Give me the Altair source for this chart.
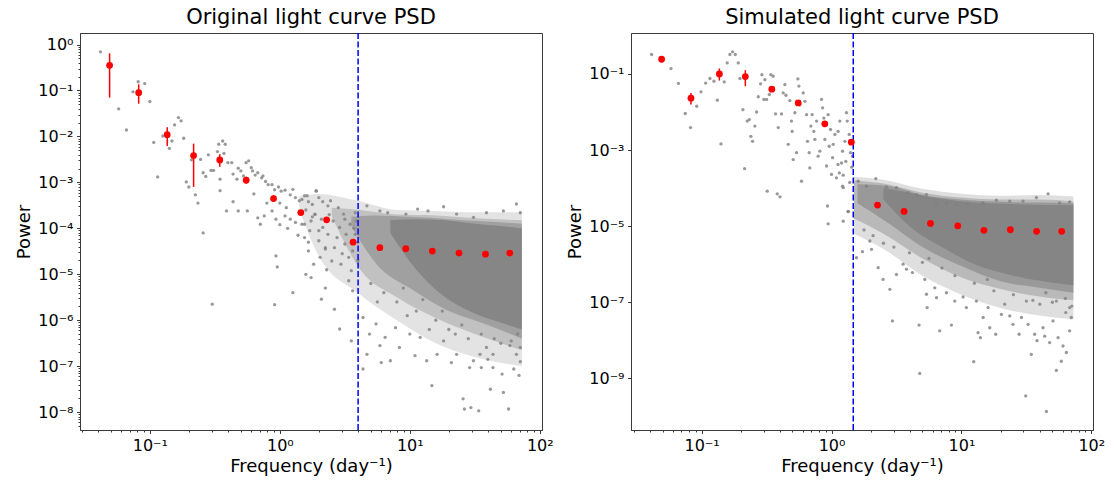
import altair as alt
import pandas as pd

# ======================= LEFT PANEL: original light curve =======================
L_title = "Original light curve PSD"
L_xdomain = [0.029, 104.0]
L_ydomain = [4.1e-9, 1.78]
L_break = 4.0  # dashed vertical line (day^-1)

L_bin_f = [0.049, 0.082, 0.136, 0.217, 0.345, 0.551, 0.895, 1.45, 2.29, 3.66,
           5.88, 9.31, 14.9, 23.9, 38.2, 58.8]
L_bin_p = [0.353, 0.0896, 0.0109, 0.00383, 0.00308, 0.00112, 0.000445, 0.000221,
           0.000153, 5.0e-5, 3.8e-5, 3.6e-5, 3.2e-5, 2.9e-5, 2.75e-5, 2.9e-5]
L_err_lo = [0.0698, 0.0516, 0.0062, 0.000798, 0.0022, 0.00094, 0.000383, 0.000193,
            0.000135, 4.6e-5, 3.55e-5, 3.4e-5, 3.05e-5, 2.8e-5, 2.65e-5, 2.8e-5]
L_err_hi = [0.644, 0.136, 0.0158, 0.00697, 0.0041, 0.00132, 0.000527, 0.000252,
            0.000172, 5.4e-5, 4.05e-5, 3.8e-5, 3.35e-5, 3.0e-5, 2.85e-5, 3.0e-5]

# individual periodogram points, read as (log10 freq, log10 power)
L_gray = [
    (-1.38, -0.16), (-1.24, -1.40), (-1.18, -1.86), (-1.13, -1.03), (-1.09, -0.81), (-1.04, -0.85),
    (-1.00, -1.24), (-0.97, -2.13), (-0.94, -2.88), (-0.90, -1.99), (-0.85, -2.26), (-0.83, -2.10),
    (-0.81, -1.75), (-0.78, -1.59), (-0.76, -1.66), (-0.74, -2.04), (-0.72, -2.99), (-0.70, -3.10),
    (-0.68, -2.51), (-0.65, -3.27), (-0.63, -3.45), (-0.61, -2.50), (-0.59, -2.79), (-0.57, -2.87),
    (-0.55, -2.40), (-0.53, -2.74), (-0.51, -2.74), (-0.48, -2.33), (-0.47, -2.17), (-0.44, -2.10),
    (-0.42, -2.17), (-0.43, -2.37), (-0.46, -2.93), (-0.46, -3.18), (-0.40, -2.57), (-0.37, -2.57),
    (-0.41, -3.62), (-0.59, -4.10), (-0.52, -5.65),
    (-0.36, -2.82), (-0.33, -2.93), (-0.32, -2.69), (-0.30, -2.75), (-0.28, -2.86), (-0.26, -2.57),
    (-0.24, -2.53), (-0.22, -2.68), (-0.21, -2.75), (-0.19, -2.84), (-0.17, -2.79), (-0.14, -2.90),
    (-0.13, -2.86), (-0.11, -2.98), (-0.09, -3.05), (-0.06, -3.05), (-0.04, -3.16), (-0.01, -3.10),
    (0.01, -3.19), (0.04, -3.17), (0.08, -3.27), (0.10, -3.15), (0.12, -3.33), (0.17, -3.37),
    (0.19, -3.29), (0.22, -3.42), (0.25, -3.48), (0.28, -3.19), (0.30, -3.33), (0.33, -3.42),
    (0.37, -3.51), (-0.36, -3.42), (-0.32, -3.62), (-0.25, -3.62), (-0.17, -3.77), (-0.15, -3.91),
    (-0.12, -3.73), (-0.06, -3.62), (-0.03, -3.80), (0.00, -3.92), (0.04, -3.73), (0.08, -3.80),
    (0.12, -3.87), (0.19, -3.91), (0.24, -3.84), (0.32, -3.80), (-0.03, -4.60), (-0.02, -4.84),
    (0.10, -5.40), (-0.04, -5.66), (0.20, -5.00), (0.35, -5.30),
    (-0.20, -3.25), (-0.10, -3.45), (0.05, -3.55), (0.15, -3.65), (0.00, -3.45), (0.27, -3.70),
    (0.30, -4.05), (0.14, -4.15), (0.22, -4.30), (0.35, -4.45), (0.06, -4.00),
    (0.15, -3.40), (0.21, -3.29), (0.28, -3.18), (0.39, -3.40), (0.49, -3.69), (0.58, -3.66),
    (0.67, -3.51), (0.77, -3.62), (0.83, -3.66), (0.97, -3.69), (1.06, -3.58), (1.14, -3.62),
    (1.26, -3.53), (1.36, -3.69), (1.49, -3.76), (1.59, -3.66), (1.72, -3.62), (1.82, -3.47),
    (1.85, -3.66),
    (0.17, -3.91), (0.19, -4.20), (0.22, -4.49), (0.23, -4.05), (0.26, -4.78), (0.27, -3.69),
    (0.30, -4.27), (0.31, -4.63), (0.33, -3.98), (0.35, -4.42), (0.37, -4.13), (0.40, -4.71),
    (0.41, -3.84), (0.42, -4.42), (0.44, -4.20), (0.46, -3.98), (0.47, -4.78), (0.50, -4.34),
    (0.51, -4.13), (0.53, -4.63), (0.54, -3.91), (0.55, -4.92), (0.56, -4.49), (0.58, -4.13),
    (0.59, -3.84), (0.24, -5.07), (0.32, -5.54), (0.42, -5.76), (0.46, -6.19), (0.55, -6.45),
    (0.56, -5.36), (0.53, -5.14), (0.20, -3.60), (0.25, -3.75), (0.38, -3.70), (0.45, -3.55),
    (0.50, -3.80), (0.57, -4.00), (0.48, -4.55), (0.36, -4.90), (0.60, -4.30), (0.60, -4.70),
    (0.64, -5.94), (0.67, -6.74), (0.64, -7.06), (0.69, -6.30), (0.74, -6.08), (0.77, -6.55),
    (0.78, -6.92), (0.81, -6.37), (0.85, -6.88), (0.89, -6.16), (0.92, -6.59), (1.00, -6.30),
    (1.04, -6.77), (1.08, -6.37), (1.13, -6.88), (1.17, -7.42), (1.21, -6.74), (1.26, -6.45),
    (1.32, -6.92), (1.36, -6.74), (1.41, -7.71), (1.42, -7.93), (1.46, -7.03), (1.47, -7.90),
    (1.53, -7.97), (1.54, -6.74), (1.55, -7.03), (1.59, -6.59), (1.62, -7.50), (1.64, -6.74),
    (1.71, -7.17), (1.72, -7.57), (1.76, -7.93), (1.77, -6.55), (1.80, -7.06), (1.82, -6.74),
    (1.83, -6.30), (1.85, -6.59), (1.64, -7.03), (1.49, -6.88),
    (0.70, -5.20), (0.80, -5.40), (0.90, -5.60), (0.95, -5.30), (1.05, -5.80), (1.10, -5.55),
    (1.20, -6.00), (1.25, -5.80), (1.30, -6.20), (1.40, -6.10), (1.45, -6.40), (1.55, -6.30),
    (1.65, -6.40), (1.70, -6.50), (1.78, -6.45), (1.85, -6.90), (1.84, -7.20), (1.60, -6.85),
    (1.35, -6.30), (1.15, -6.20), (0.98, -5.90), (0.75, -5.60),
]
# the crowded part of the cloud, read as bands of (log10 freq, upper, lower log10 power),
# from the thinly to the most densely covered zone
L_bands = [
    ([(0.15, -3.30, -3.60), (0.30, -3.25, -4.60), (0.60, -3.40, -5.40), (0.90, -3.60, -6.00),
      (1.20, -3.62, -6.50), (1.50, -3.65, -6.80), (1.862, -3.65, -7.00)], 0.22),
    ([(0.40, -3.55, -3.75), (0.62, -3.60, -4.90), (0.90, -3.70, -5.50), (1.20, -3.72, -5.95),
      (1.50, -3.78, -6.30), (1.862, -3.82, -6.65)], 0.35),
    ([(0.55, -3.75, -3.95), (0.75, -3.72, -4.80), (1.00, -3.75, -5.30), (1.30, -3.80, -5.80),
      (1.60, -3.85, -6.10), (1.862, -3.90, -6.40)], 0.5),
    ([(0.85, -3.82, -4.10), (1.05, -3.80, -4.90), (1.25, -3.82, -5.45), (1.50, -3.90, -5.85),
      (1.70, -3.95, -6.05), (1.862, -4.00, -6.20)], 0.8),
]

# ======================= RIGHT PANEL: simulated light curve =======================
R_title = "Simulated light curve PSD"
R_xdomain = [0.0286, 103.0]
R_ydomain = [4.4e-11, 1.19]
R_break = 1.47

R_bin_f = [0.0492, 0.0828, 0.137, 0.217, 0.347, 0.554, 0.888, 1.42, 2.26, 3.62,
           5.78, 9.37, 14.9, 23.8, 37.9, 59.1]
R_bin_p = [0.243, 0.023, 0.100, 0.0855, 0.0398, 0.0173, 0.00488, 0.00161, 3.58e-5, 2.44e-5,
           1.18e-5, 1.02e-5, 7.76e-6, 8.05e-6, 7.3e-6, 7.3e-6]
R_err_lo = [0.228, 0.0157, 0.067, 0.0475, 0.0337, 0.0153, 0.0044, 0.00147, 3.35e-5, 2.3e-5,
            1.12e-5, 9.7e-6, 7.4e-6, 7.7e-6, 7.0e-6, 7.0e-6]
R_err_hi = [0.259, 0.0317, 0.139, 0.125, 0.0447, 0.0195, 0.0054, 0.00176, 3.8e-5, 2.6e-5,
            1.25e-5, 1.07e-5, 8.1e-6, 8.4e-6, 7.6e-6, 7.6e-6]

R_gray = [
    (-1.385, -0.49), (-1.236, -0.86), (-1.179, -1.25), (-1.126, -2.04), (-1.085, -2.41),
    (-1.038, -1.85), (-1.005, -1.47), (-0.969, -1.24), (-0.936, -1.12), (-0.905, -1.19),
    (-0.879, -1.69), (-0.851, -2.84), (-0.826, -1.21), (-0.803, -0.71), (-0.782, -0.49),
    (-0.762, -0.42), (-0.741, -0.49), (-0.718, -0.71), (-0.705, -1.12), (-0.682, -1.94),
    (-0.669, -3.49), (-0.649, -2.24), (-0.633, -2.20), (-0.621, -2.64), (-0.608, -2.77),
    (-0.590, -2.37), (-0.577, -2.00), (-0.564, -1.60), (-0.546, -1.26), (-0.536, -1.02),
    (-0.521, -1.67), (-0.513, -1.15), (-0.500, -1.67), (-0.495, -4.08), (-0.479, -1.54),
    (-0.467, -1.02), (-0.449, -1.06), (-0.431, -2.05), (-0.418, -4.15), (-0.410, -2.41),
    (-0.397, -4.23), (-0.385, -2.05), (-0.372, -1.50), (-0.359, -1.28), (-0.351, -1.56),
    (-0.333, -2.85), (-0.321, -1.70), (-0.308, -2.24), (-0.303, -2.51), (-0.295, -3.25),
    (-0.282, -2.02), (-0.269, -3.07), (-0.259, -1.13), (-0.251, -1.32), (-0.244, -1.81),
    (-0.231, -3.82), (-0.218, -1.50), (-0.205, -1.72), (-0.192, -2.07), (-0.185, -2.77),
    (-0.172, -3.07), (-0.167, -3.47), (-0.159, -2.37), (-0.149, -2.07), (-0.136, -2.51),
    (-0.128, -2.72), (-0.115, -2.24), (-0.103, -3.16), (-0.090, -3.03), (-0.077, -1.67),
    (-0.069, -1.89), (-0.059, -2.16), (-0.051, -2.72), (-0.038, -3.42), (-0.031, -4.47),
    (-0.026, -2.07), (-0.018, -2.90), (-0.008, -2.46), (0.000, -3.64), (0.008, -3.20),
    (0.013, -2.85), (0.026, -2.59), (0.038, -3.73), (0.051, -2.51), (0.064, -2.24),
    (0.077, -3.34), (0.085, -3.03), (0.090, -3.99), (0.103, -2.77), (0.115, -2.02),
    (0.121, -2.24), (0.128, -4.61), (0.136, -2.59), (0.146, -3.07), (0.162, -3.16),
    (-0.026, -4.94), (0.090, -4.87), (0.050, -3.38), (0.090, -3.66), (0.060, -3.60),
    (0.085, -3.95), (0.128, -4.62), (0.155, -3.45), (0.140, -3.85), (0.110, -3.30),
    (0.192, -5.83), (0.238, -5.67), (0.295, -5.39), (0.308, -5.61), (0.359, -6.09),
    (0.397, -6.40), (0.449, -6.66), (0.469, -7.49), (0.500, -6.27), (0.551, -6.00),
    (0.577, -6.13), (0.623, -6.22), (0.674, -7.60), (0.679, -8.87), (0.718, -6.40),
    (0.731, -6.79), (0.736, -7.14), (0.795, -6.62), (0.808, -6.88), (0.833, -7.75),
    (0.885, -6.75), (0.923, -7.60), (0.949, -6.97), (1.013, -6.86), (1.038, -7.14),
    (1.095, -8.56), (1.115, -6.97), (1.128, -7.80), (1.146, -7.93), (1.167, -7.40),
    (1.205, -7.14), (1.218, -7.67), (1.264, -7.84), (1.308, -7.32), (1.333, -7.05),
    (1.372, -7.36), (1.397, -7.58), (1.444, -7.84), (1.462, -7.40), (1.495, -9.46),
    (1.513, -7.58), (1.538, -8.37), (1.564, -7.84), (1.582, -8.01), (1.628, -7.67),
    (1.641, -7.89), (1.654, -9.87), (1.679, -8.06), (1.705, -7.49), (1.731, -8.79),
    (1.744, -7.93), (1.769, -8.55), (1.782, -8.15), (1.808, -8.32), (1.833, -7.75),
    (1.846, -7.40), (1.833, -7.14), (1.803, -7.27), (1.731, -6.97), (1.603, -7.05),
    (1.500, -6.97),
    (0.205, -3.82), (0.269, -3.95), (0.341, -3.75), (0.423, -3.97), (0.500, -3.99),
    (0.590, -4.12), (0.654, -4.17), (0.731, -4.17), (0.808, -4.39), (0.885, -4.39),
    (0.962, -4.43), (1.051, -4.41), (1.167, -4.39), (1.269, -4.32), (1.372, -4.34),
    (1.474, -4.34), (1.577, -4.25), (1.667, -4.15), (1.756, -4.39), (1.833, -4.36),
    (0.25, -5.10), (0.32, -5.25), (0.40, -5.45), (0.48, -5.55), (0.60, -5.70), (0.70, -5.95),
    (0.85, -6.10), (0.95, -6.30), (1.10, -6.50), (1.25, -6.70), (1.40, -6.80), (1.55, -6.95),
    (1.70, -7.00), (1.85, -7.10), (1.80, -6.90), (1.65, -6.75), (1.20, -6.40), (0.75, -5.85),
]
R_bands = [
    ([(0.172, -3.70, -5.20), (0.40, -3.78, -5.60), (0.70, -4.02, -6.30), (1.00, -4.15, -6.80),
      (1.30, -4.20, -7.15), (1.60, -4.18, -7.35), (1.862, -4.22, -7.45)], 0.25),
    ([(0.172, -3.80, -4.80), (0.40, -3.88, -5.20), (0.70, -4.12, -5.85), (1.00, -4.25, -6.35),
      (1.30, -4.30, -6.65), (1.60, -4.30, -6.85), (1.862, -4.35, -6.95)], 0.4),
    ([(0.20, -3.90, -4.40), (0.45, -3.95, -4.95), (0.70, -4.18, -5.55), (1.00, -4.30, -6.05),
      (1.30, -4.36, -6.45), (1.60, -4.38, -6.62), (1.862, -4.40, -6.75)], 0.55),
    ([(0.40, -4.00, -4.30), (0.60, -4.12, -5.00), (0.85, -4.28, -5.55), (1.10, -4.38, -6.00),
      (1.40, -4.42, -6.30), (1.862, -4.45, -6.55)], 0.8),
]

# ---------------------------------------------------------------------------------
FONT = "DejaVu Sans"
FRAME = "#3a3a3a"
GRAY = "#808080"
SUP = {"-": "\u207b", "0": "\u2070", "1": "\u00b9", "2": "\u00b2", "3": "\u00b3",
       "4": "\u2074", "5": "\u2075", "6": "\u2076", "7": "\u2077", "8": "\u2078", "9": "\u2079"}


def pow_expr(exps):
    parts = []
    for e in exps:
        s = "10" + "".join(SUP[c] for c in str(e))
        parts.append(f"round(log(datum.value)/LN10) == {e} ? '{s}'")
    return " : ".join(parts) + " : ''"


def minor_vals(lo, hi, dmin, dmax):
    out = []
    for d in range(dmin, dmax + 1):
        for k in range(2, 10):
            v = k * 10.0 ** d
            if lo <= v <= hi:
                out.append(v)
    return out


def band_df(rows):
    return pd.DataFrame({"f": [10 ** r[0] for r in rows], "top": [10 ** r[1] for r in rows],
                         "bot": [10 ** r[2] for r in rows]})


def panel(title, xdom, ydom, brk, bf, bp, blo, bhi, gray, bands, yexps, yminor):
    xs = alt.Scale(type="log", domain=xdom, nice=False)
    ys = alt.Scale(type="log", domain=ydom, nice=False)

    gray_df = pd.DataFrame({"f": [10 ** a for a, b in gray], "p": [10 ** b for a, b in gray]})
    bins_df = pd.DataFrame({"f": bf, "p": bp, "lo": blo, "hi": bhi})
    brk_df = pd.DataFrame({"f": [brk]})

    layers = []
    for rows, op in bands:
        layers.append(
            alt.Chart(band_df(rows)).mark_area(color=GRAY, opacity=op, interpolate="monotone").encode(
                x=alt.X("f:Q", scale=xs, axis=None),
                y=alt.Y("top:Q", scale=ys, axis=None),
                y2="bot:Q",
            )
        )
    layers.append(
        alt.Chart(gray_df).mark_circle(color=GRAY, opacity=0.8, size=11).encode(
            x=alt.X("f:Q", scale=xs, axis=None),
            y=alt.Y("p:Q", scale=ys, axis=None),
        )
    )
    layers.append(
        alt.Chart(brk_df).mark_rule(color="blue", strokeDash=[6, 2.5], strokeWidth=1.5).encode(
            x=alt.X("f:Q", scale=xs, axis=None),
        )
    )
    layers.append(
        alt.Chart(bins_df).mark_rule(color="red", strokeWidth=1.5).encode(
            x=alt.X("f:Q", scale=xs, axis=alt.Axis(
                orient="bottom", values=minor_vals(xdom[0], xdom[1], -2, 2), labels=False,
                domain=False, tickSize=2, tickColor=FRAME, title=None, grid=False)),
            y=alt.Y("lo:Q", scale=ys, axis=alt.Axis(
                orient="left", values=yminor if yminor else [ydom[0] * 0.1], labels=False,
                domain=False, tickSize=2, tickColor=FRAME, title=None, grid=False)),
            y2="hi:Q",
        )
    )
    layers.append(
        alt.Chart(bins_df).mark_circle(color="red", opacity=1, size=46).encode(
            x=alt.X("f:Q", scale=xs, axis=alt.Axis(
                orient="bottom", values=[0.1, 1, 10, 100], labelExpr=pow_expr([-1, 0, 1, 2]),
                title="Frequency (day\u207b\u00b9)", labelFlush=False, labelOverlap=False)),
            y=alt.Y("p:Q", scale=ys, axis=alt.Axis(
                orient="left", values=[10.0 ** e for e in yexps], labelExpr=pow_expr(yexps),
                title="Power", labelOverlap=False)),
        )
    )
    return (
        alt.layer(*layers)
        .resolve_axis(x="independent", y="independent")
        .properties(width=462, height=397, title=title)
    )


left = panel(L_title, L_xdomain, L_ydomain, L_break, L_bin_f, L_bin_p, L_err_lo, L_err_hi,
             L_gray, L_bands, list(range(0, -9, -1)), minor_vals(L_ydomain[0], L_ydomain[1], -9, 0))
right = panel(R_title, R_xdomain, R_ydomain, R_break, R_bin_f, R_bin_p, R_err_lo, R_err_hi,
              R_gray, R_bands, [-1, -3, -5, -7, -9], [])

chart = (
    alt.hconcat(left, right, spacing=12)
    .properties(padding={"left": 15, "top": 6, "right": 5, "bottom": 5})
    .configure(font=FONT)
    .configure_view(stroke=FRAME, strokeWidth=1)
    .configure_axis(
        domainColor=FRAME, tickColor=FRAME, labelColor="black", titleColor="black",
        labelFont=FONT, titleFont=FONT, labelFontSize=16, titleFontSize=18,
        titleFontWeight="normal", grid=False, tickSize=3.5, labelPadding=3.5, titlePadding=4,
    )
    .configure_title(font=FONT, fontSize=21, fontWeight="normal", color="black", anchor="middle", offset=4)
)

chart.save("out.html", embed_options={"renderer": "svg", "actions": False})
